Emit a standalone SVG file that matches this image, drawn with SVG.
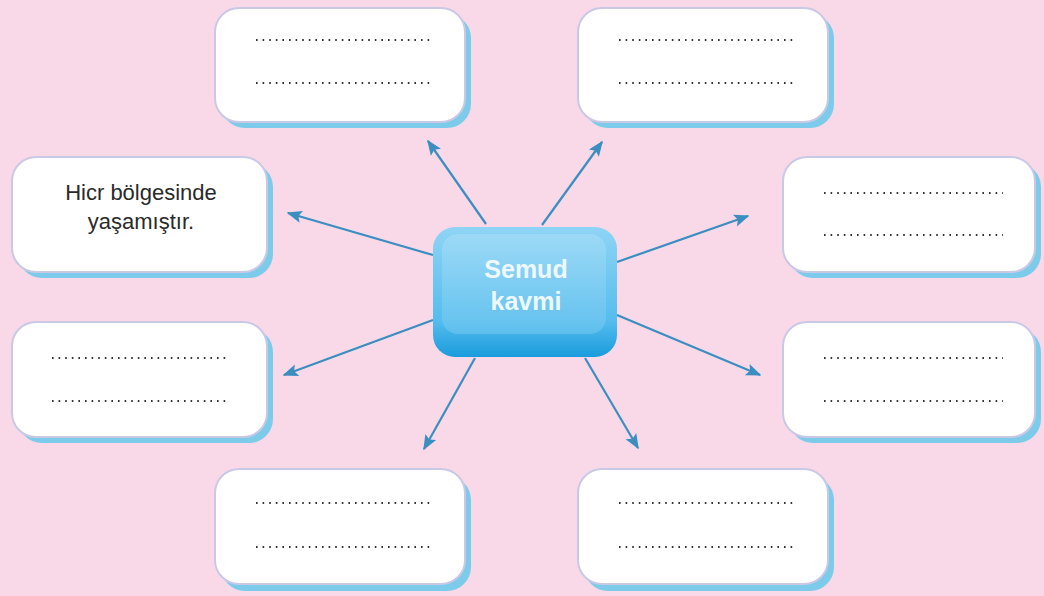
<svg xmlns="http://www.w3.org/2000/svg" width="1044" height="596" viewBox="0 0 1044 596">
<defs>
<linearGradient id="cg" x1="0" y1="0" x2="0" y2="1">
<stop offset="0" stop-color="#8fd4f5"/>
<stop offset="0.72" stop-color="#55bdee"/>
<stop offset="1" stop-color="#1a9bdc"/>
</linearGradient>
<linearGradient id="ci" x1="0" y1="0" x2="0" y2="1">
<stop offset="0" stop-color="#a4dcf7"/>
<stop offset="1" stop-color="#69c4ef"/>
</linearGradient>
<marker id="ah" viewBox="0 0 10 10" refX="9" refY="5" markerWidth="7" markerHeight="7" orient="auto" markerUnits="strokeWidth">
<path d="M0,1 L10,5 L0,9 L2,5 Z" fill="#3a8ec0"/>
</marker>
</defs>
<style>
.sh{fill:#7ccbea}
.bx{fill:#ffffff;stroke:#c9c9e6;stroke-width:2}
.dl{stroke:#333;stroke-width:1.8;stroke-dasharray:1.6 5}
.ar{stroke:#3a8ec0;stroke-width:2.2;fill:none;marker-end:url(#ah)}
.t{font-family:"Liberation Sans",Arial,sans-serif;font-size:22px;fill:#2a2a2a;text-anchor:middle}
.ct{font-family:"Liberation Sans",Arial,sans-serif;font-size:25px;font-weight:bold;fill:#eef9ff;text-anchor:middle}
</style>
<rect width="1044" height="596" fill="#f9d9e8"/>
<g id="connectors">
<line class="ar" x1="486" y1="224" x2="428" y2="141"/>
<line class="ar" x1="542" y1="225" x2="602" y2="142"/>
<line class="ar" x1="433" y1="255" x2="288" y2="213"/>
<line class="ar" x1="433" y1="320" x2="284" y2="375"/>
<line class="ar" x1="475" y1="358" x2="424" y2="449"/>
<line class="ar" x1="585" y1="358" x2="638" y2="448"/>
<line class="ar" x1="617" y1="262" x2="748" y2="216"/>
<line class="ar" x1="617" y1="315" x2="760" y2="375"/>
</g>
<g id="n-top-left">
<rect class="sh" x="221" y="14" width="250" height="114" rx="24"/>
<rect class="bx" x="215" y="8" width="250" height="114" rx="24"/>
<line class="dl" x1="256" y1="40" x2="434" y2="40"/>
<line class="dl" x1="256" y1="83" x2="434" y2="83"/>
</g>
<g id="n-top-right">
<rect class="sh" x="584" y="14" width="250" height="114" rx="24"/>
<rect class="bx" x="578" y="8" width="250" height="114" rx="24"/>
<line class="dl" x1="619" y1="40" x2="797" y2="40"/>
<line class="dl" x1="619" y1="83" x2="797" y2="83"/>
</g>
<g id="n-left-upper">
<rect class="sh" x="18" y="163" width="255" height="115" rx="24"/>
<rect class="bx" x="12" y="157" width="255" height="115" rx="24"/>
<text class="t" x="141" y="200">Hicr bölgesinde</text>
<text class="t" x="141" y="229">yaşamıştır.</text>
</g>
<g id="n-right-upper">
<rect class="sh" x="789" y="163" width="252" height="115" rx="24"/>
<rect class="bx" x="783" y="157" width="252" height="115" rx="24"/>
<line class="dl" x1="824" y1="193" x2="1003" y2="193"/>
<line class="dl" x1="824" y1="235" x2="1003" y2="235"/>
</g>
<g id="n-left-lower">
<rect class="sh" x="18" y="328" width="255" height="115" rx="24"/>
<rect class="bx" x="12" y="322" width="255" height="115" rx="24"/>
<line class="dl" x1="52" y1="358" x2="230" y2="358"/>
<line class="dl" x1="52" y1="401" x2="230" y2="401"/>
</g>
<g id="n-right-lower">
<rect class="sh" x="789" y="328" width="252" height="115" rx="24"/>
<rect class="bx" x="783" y="322" width="252" height="115" rx="24"/>
<line class="dl" x1="824" y1="358" x2="1003" y2="358"/>
<line class="dl" x1="824" y1="401" x2="1003" y2="401"/>
</g>
<g id="n-bottom-left">
<rect class="sh" x="221" y="476" width="250" height="115" rx="24"/>
<rect class="bx" x="215" y="469" width="250" height="115" rx="24"/>
<line class="dl" x1="256" y1="503" x2="434" y2="503"/>
<line class="dl" x1="256" y1="547" x2="434" y2="547"/>
</g>
<g id="n-bottom-right">
<rect class="sh" x="584" y="476" width="250" height="115" rx="24"/>
<rect class="bx" x="578" y="469" width="250" height="115" rx="24"/>
<line class="dl" x1="619" y1="503" x2="797" y2="503"/>
<line class="dl" x1="619" y1="547" x2="797" y2="547"/>
</g>
<g id="n-center">
<rect x="433" y="227" width="184" height="130" rx="22" fill="url(#cg)"/>
<rect x="442" y="234" width="164" height="100" rx="16" fill="url(#ci)" opacity="0.7"/>
<text class="ct" x="526" y="278">Semud</text>
<text class="ct" x="526" y="310">kavmi</text>
</g>
</svg>
